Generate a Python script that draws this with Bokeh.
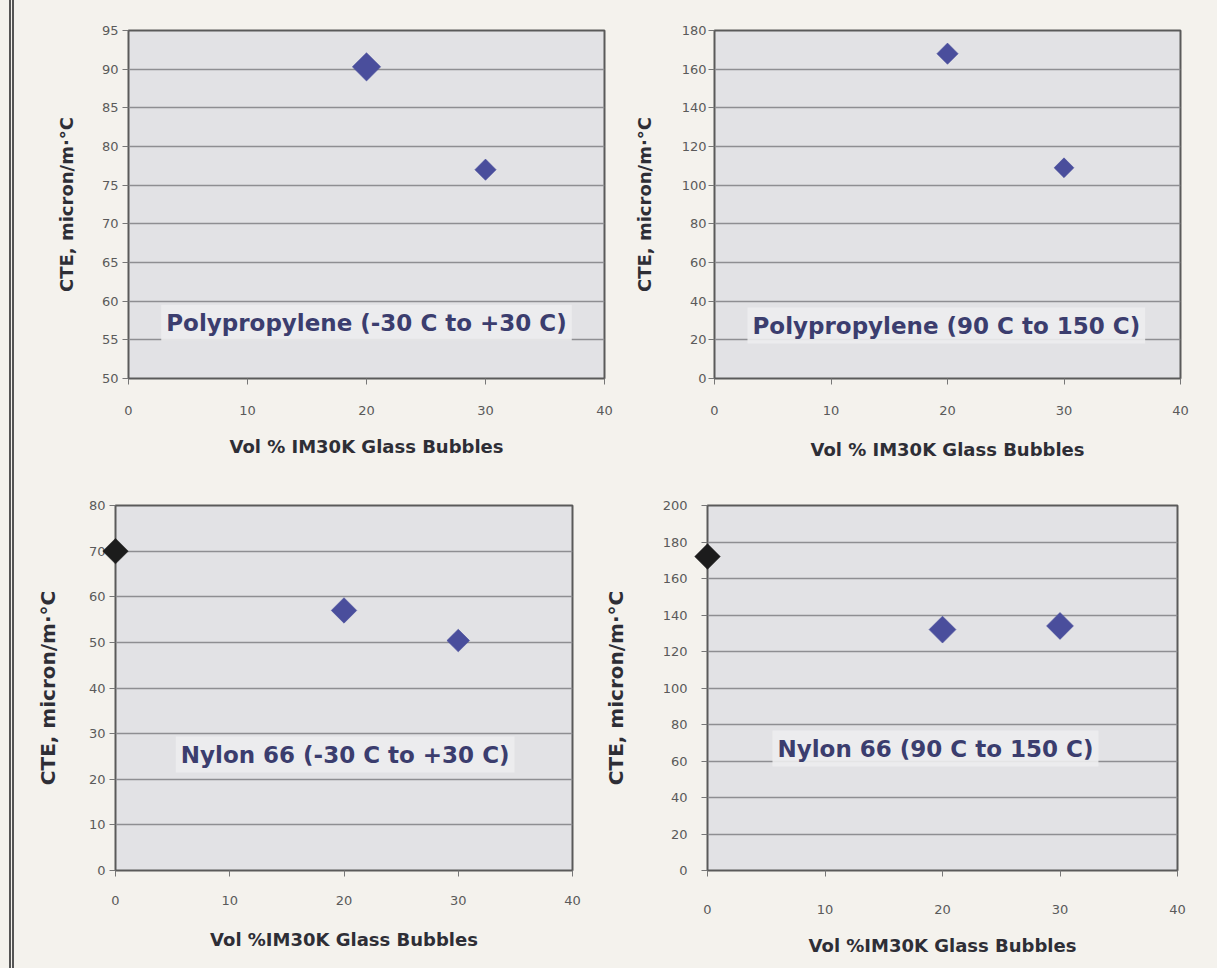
import math
from bokeh.plotting import figure
from bokeh.layouts import row, column
from bokeh.models import Label, FixedTicker, Range1d, Div
from bokeh.embed import file_html
from bokeh.resources import INLINE

# ---- data ----
x_ticks = [0, 10, 20, 30, 40]

pp_low_x = [20, 30]
pp_low_y = [90.3, 77.0]
pp_low_yticks = [50, 55, 60, 65, 70, 75, 80, 85, 90, 95]

pp_high_x = [20, 30]
pp_high_y = [168, 109]
pp_high_yticks = [0, 20, 40, 60, 80, 100, 120, 140, 160, 180]

ny_low_x = [0, 20, 30]
ny_low_y = [70, 57, 50.4]
ny_low_yticks = [0, 10, 20, 30, 40, 50, 60, 70, 80]

ny_high_x = [0, 20, 30]
ny_high_y = [172, 132, 134]
ny_high_yticks = [0, 20, 40, 60, 80, 100, 120, 140, 160, 180, 200]

titles = ["Polypropylene (-30 C to +30 C)", "Polypropylene (90 C to 150 C)",
          "Nylon 66 (-30 C to +30 C)", "Nylon 66 (90 C to 150 C)"]
y_title = "CTE, micron/m·°C"
x_titles = ["Vol % IM30K Glass Bubbles", "Vol % IM30K Glass Bubbles",
            "Vol %IM30K Glass Bubbles", "Vol %IM30K Glass Bubbles"]

PAGE = "#f4f2ed"
PLOT_BG = "#e2e2e5"
BLUE = "#4a4e9c"
BLACK = "#1c1c1c"
TXT = "#3b3d6e"


def panel(xs, ys, colors, sizes, yticks, title, xtitle, note_xy,
          width, height, bl, br, bt, bb, xstand, xlstand, ystand, ylstand,
          ytitle_size="18px"):
    p = figure(width=width, height=height, output_backend="svg", toolbar_location=None,
               x_range=Range1d(0, 40), y_range=Range1d(yticks[0], yticks[-1]),
               min_border_left=bl, min_border_right=br, min_border_top=bt,
               min_border_bottom=bb)
    p.background_fill_color = PLOT_BG
    p.border_fill_color = PAGE
    p.outline_line_color = "#5a5a5a"
    p.outline_line_width = 2
    p.xgrid.grid_line_color = None
    p.ygrid.grid_line_color = "#8e8e92"
    p.ygrid.grid_line_width = 1.6
    p.xaxis.ticker = FixedTicker(ticks=x_ticks)
    p.yaxis.ticker = FixedTicker(ticks=yticks)
    for ax in (p.xaxis[0], p.yaxis[0]):
        ax.axis_line_color = "#5a5a5a"
        ax.major_tick_line_color = "#777777"
        ax.major_tick_out = 6
        ax.major_tick_in = 0
        ax.minor_tick_line_color = None
        ax.major_label_text_font = "DejaVu Sans"
        ax.major_label_text_font_size = "13px"
        ax.major_label_text_color = "#5a5a5a"
        ax.axis_label_text_font = "DejaVu Sans"
        ax.axis_label_text_font_style = "bold"
        ax.axis_label_text_font_size = "18px"
        ax.axis_label_text_color = "#2e2e36"
    p.yaxis.axis_label_text_font_size = ytitle_size
    p.xaxis.axis_label = xtitle
    p.yaxis.axis_label = y_title
    p.xaxis.major_label_standoff = xstand
    p.xaxis.axis_label_standoff = xlstand
    p.yaxis.major_label_standoff = ystand
    p.yaxis.axis_label_standoff = ylstand
    r = p.scatter(xs, ys, marker="square", angle=math.pi / 4, size=sizes,
                  fill_color=colors, line_color=colors, line_alpha=0.6)
    r.level = "overlay"
    p.add_layout(Label(x=note_xy[0], y=note_xy[1], text=title,
                       text_align="center", text_baseline="middle",
                       text_font="DejaVu Sans", text_font_style="bold",
                       text_font_size="23px", text_color=TXT,
                       background_fill_color="#ededee", background_fill_alpha=0.9,
                       padding=5))
    return p


p1 = panel(pp_low_x, pp_low_y, [BLUE, BLUE], [20, 15], pp_low_yticks, titles[0], x_titles[0],
           (20, 57.2), 616, 470, 114, 26, 28, 89, 21, 18, 4, 22)
p2 = panel(pp_high_x, pp_high_y, [BLUE, BLUE], [15, 14], pp_high_yticks, titles[1], x_titles[1],
           (19.9, 27.4), 587, 470, 82, 37, 30, 92, 21, 21, 2, 24)
p3 = panel(ny_low_x, ny_low_y, [BLACK, BLUE, BLUE], [18, 18, 16], ny_low_yticks, titles[2], x_titles[2],
           (20.1, 25.4), 586, 498, 101, 28, 28, 98, 19, 21, 4, 26, "20px")
p4 = panel(ny_high_x, ny_high_y, [BLACK, BLUE, BLUE], [18, 19, 19], ny_high_yticks, titles[3], x_titles[3],
           (19.4, 66.8), 617, 498, 106, 40, 35, 98, 28, 18, 14, 32, "20px")

edge = Div(width=14, height=968, margin=0,
           styles={"border-right": "5px double #555", "box-sizing": "border-box",
                   "background-color": PAGE})
grid = column(row(p1, p2, spacing=0), row(p3, p4, spacing=0), spacing=0)
layout = row(edge, grid, spacing=0, styles={"background-color": PAGE})
open("out.html", "w").write(file_html(layout, INLINE))
